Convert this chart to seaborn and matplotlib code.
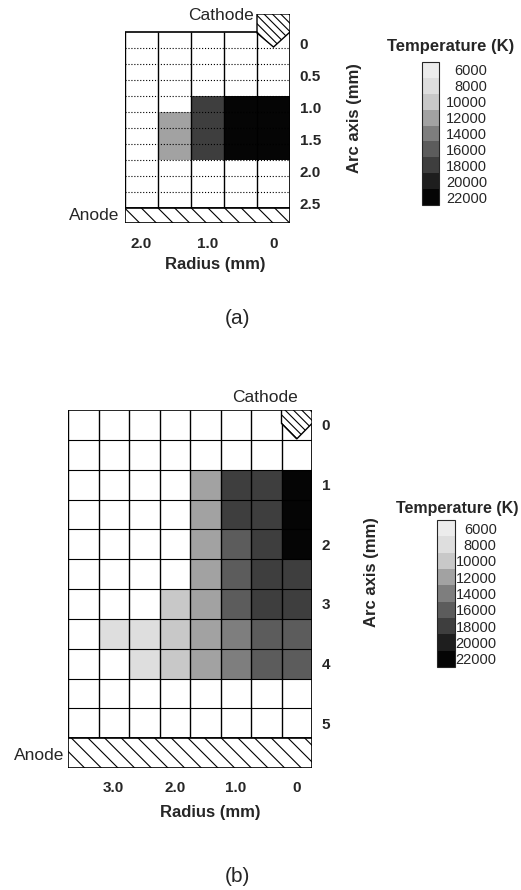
import numpy as np
import matplotlib
matplotlib.use("Agg")
import matplotlib.pyplot as plt
import seaborn as sns
from matplotlib.colors import ListedColormap, BoundaryNorm
from matplotlib.cm import ScalarMappable
from matplotlib.patches import Rectangle, Polygon


sns.set_theme(style="white")
plt.rcParams['font.family'] = ['Liberation Sans', 'DejaVu Sans']
plt.rcParams['hatch.linewidth'] = 0.8

N = np.nan

# temperature scale (K)
temp_levels = [6000, 8000, 10000, 12000, 14000, 16000, 18000, 20000, 22000]

# panel (a): 11 rows of 0.25 mm, 5 columns of 0.5 mm (outer radius on the left)
radius_labels_a = ['2.0', '1.0', '0']
arc_labels_a = ['0', '0.5', '1.0', '1.5', '2.0', '2.5']
temp_a = [
    [N, N, N, N, N],
    [N, N, N, N, N],
    [N, N, N, N, N],
    [N, N, N, N, N],
    [N, N, 18000, 22000, 22000],
    [N, 12000, 18000, 22000, 22000],
    [N, 12000, 18000, 22000, 22000],
    [N, 12000, 18000, 22000, 22000],
    [N, N, N, N, N],
    [N, N, N, N, N],
    [N, N, N, N, N],
]

# panel (b): 11 rows of 0.5 mm, 8 columns of 0.5 mm
radius_labels_b = ['3.0', '2.0', '1.0', '0']
arc_labels_b = ['0', '1', '2', '3', '4', '5']
temp_b = [
    [N, N, N, N, N, N, N, N],
    [N, N, N, N, N, N, N, N],
    [N, N, N, N, 12000, 18000, 18000, 22000],
    [N, N, N, N, 12000, 18000, 18000, 22000],
    [N, N, N, N, 12000, 16000, 18000, 22000],
    [N, N, N, N, 12000, 16000, 18000, 18000],
    [N, N, N, 10000, 12000, 16000, 18000, 18000],
    [N, 8000, 8000, 10000, 12000, 14000, 16000, 16000],
    [N, N, 8000, 10000, 12000, 14000, 16000, 16000],
    [N, N, N, N, N, N, N, N],
    [N, N, N, N, N, N, N, N],
]

level_grays = ['#ececec', '#dedede', '#c8c8c8', '#a2a2a2', '#7e7e7e',
               '#5c5c5c', '#3e3e3e', '#1e1e1e', '#050505']
cmap = ListedColormap(level_grays)
bounds = np.concatenate([[temp_levels[0] - 1000], np.array(temp_levels) + 1000])
norm = BoundaryNorm(bounds, cmap.N)

W, H = 521, 890
fig = plt.figure(figsize=(W / 100, H / 100), dpi=100)


def box(x0, y0, x1, y1):
    # pixel box (top-left origin) -> figure fraction rect
    return [x0 / W, 1 - y1 / H, (x1 - x0) / W, (y1 - y0) / H]


def fx(px):
    return px / W


def fy(py):
    return 1 - py / H


def draw_panel(rect, data, cath_h, anode_h, cathode_pts, hstyle,
               radius_labels, arc_labels, arc_step, arc_offset,
               xpad, ypad):
    arr = np.array(data, dtype=float)
    nrows, ncols = arr.shape
    ax = fig.add_axes(rect)
    sns.heatmap(arr, ax=ax, cmap=cmap, norm=norm, cbar=False,
                xticklabels=False, yticklabels=False)
    ax.set_xlim(0, ncols)
    ax.set_ylim(nrows + anode_h, -cath_h)

    ax.vlines(np.arange(ncols + 1), 0, nrows, colors='black', lw=1.0, zorder=3)
    ax.hlines(np.arange(1, nrows), 0, ncols, colors='black', lw=0.8,
              linestyles=hstyle, zorder=3)
    ax.add_patch(Rectangle((0, 0), ncols, nrows, fill=False, ec='black',
                           lw=1.2, zorder=4))
    ax.add_patch(Rectangle((0, nrows), ncols, anode_h, fc='white', ec='black',
                           hatch='\\\\', lw=1.2, zorder=4))
    ax.add_patch(Polygon(cathode_pts, closed=True, fc='white', ec='black',
                         hatch='\\\\\\\\', lw=1.0, zorder=5))
    for s in ax.spines.values():
        s.set_visible(False)

    xt = [(ncols - 1) - float(v) / 0.5 + 0.5 for v in radius_labels]
    yt = [arc_offset + float(v) / arc_step for v in arc_labels]
    ax.set_xticks(xt)
    ax.set_xticklabels(radius_labels, fontweight='bold', fontsize=11)
    ax.yaxis.tick_right()
    ax.set_yticks(yt)
    ax.set_yticklabels(arc_labels, fontweight='bold', fontsize=11)
    ax.tick_params(axis='x', length=0, pad=xpad)
    ax.tick_params(axis='y', length=0, pad=ypad)
    return ax


def draw_scale(rect, pad):
    cax = fig.add_axes(rect)
    cb = fig.colorbar(ScalarMappable(norm=norm, cmap=cmap), cax=cax,
                      ticks=temp_levels)
    cb.set_ticklabels([str(v) for v in temp_levels])
    cax.invert_yaxis()
    cax.minorticks_off()
    cb.outline.set_linewidth(0.8)
    cax.tick_params(which='both', length=0, pad=pad, labelsize=10.5)
    for t in cax.get_yticklabels():
        t.set_ha('right')
    return cb


# ---- panel (a) ----
ax_a = draw_panel(box(125, 14, 290, 223), temp_a, cath_h=1.125, anode_h=0.94,
                  cathode_pts=[(4, -1.125), (5, -1.125), (5, 0.0), (4.5, 0.94), (4, 0.06)],
                  hstyle=':', radius_labels=radius_labels_a, arc_labels=arc_labels_a,
                  arc_step=0.25, arc_offset=0.75, xpad=10, ypad=7)
ax_a.set_xlabel('Radius (mm)', fontweight='bold', fontsize=12, va='center')
ax_a.xaxis.set_label_coords(fx(215), fy(264), transform=fig.transFigure)
ax_a.yaxis.set_label_position('right')
ax_a.set_ylabel('Arc axis (mm)', fontweight='bold', fontsize=12, va='center')
ax_a.yaxis.set_label_coords(fx(354), fy(118), transform=fig.transFigure)
fig.text(fx(254), fy(15), 'Cathode', ha='right', va='center', fontsize=12.5)
fig.text(fx(119), fy(216), 'Anode', ha='right', va='center', fontsize=12.5)
draw_scale(box(422, 62, 439, 205), pad=34.5)
fig.text(fx(451), fy(46), 'Temperature (K)', ha='center', va='center',
         fontweight='bold', fontsize=12)
fig.text(fx(237), fy(318), '(a)', ha='center', va='center', fontsize=15)

# ---- panel (b) ----
ax_b = draw_panel(box(68, 410, 312, 768), temp_b, cath_h=0.0, anode_h=1.0,
                  cathode_pts=[(7, 0.0), (8, 0.0), (8, 0.45), (7.5, 0.97), (7, 0.45)],
                  hstyle='-', radius_labels=radius_labels_b, arc_labels=arc_labels_b,
                  arc_step=0.5, arc_offset=0.5, xpad=9, ypad=7)
ax_b.set_xlabel('Radius (mm)', fontweight='bold', fontsize=12, va='center')
ax_b.xaxis.set_label_coords(fx(210), fy(812), transform=fig.transFigure)
ax_b.yaxis.set_label_position('right')
ax_b.set_ylabel('Arc axis (mm)', fontweight='bold', fontsize=12, va='center')
ax_b.yaxis.set_label_coords(fx(372), fy(572), transform=fig.transFigure)
fig.text(fx(265), fy(398), 'Cathode', ha='center', va='center', fontsize=12.5)
fig.text(fx(64), fy(755), 'Anode', ha='right', va='center', fontsize=12.5)
draw_scale(box(437, 520, 455, 667), pad=30)
fig.text(fx(518), fy(508), 'Temperature (K)', ha='right', va='center',
         fontweight='bold', fontsize=11.5)
fig.text(fx(237), fy(877), '(b)', ha='center', va='center', fontsize=15)

fig.savefig('out.png', dpi=100)
